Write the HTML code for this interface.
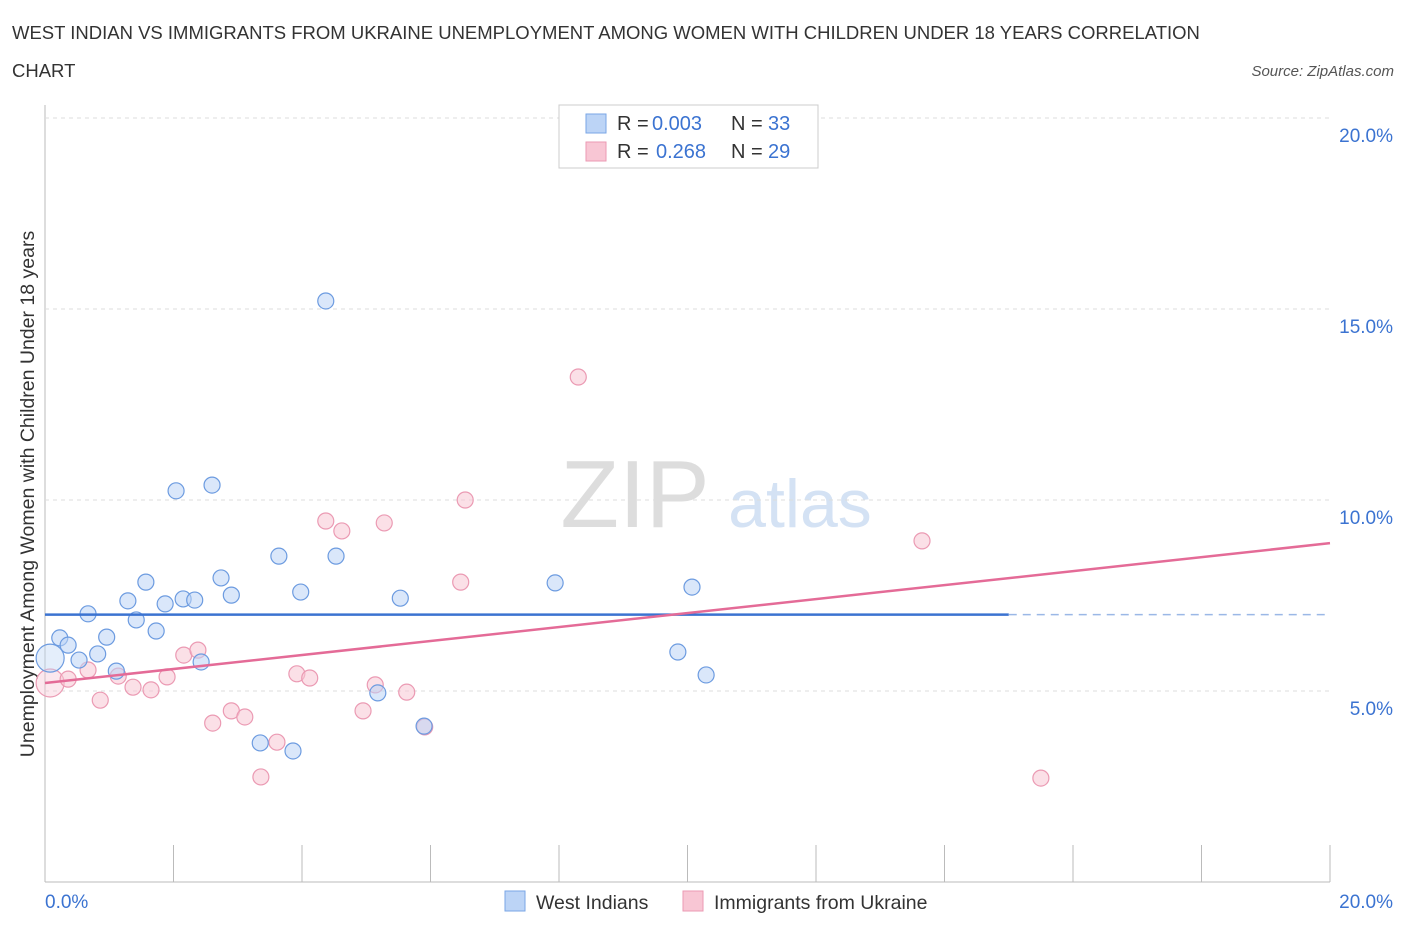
<!DOCTYPE html>
<html><head><meta charset="utf-8"><style>
body{margin:0;background:#fff;font-family:"Liberation Sans",sans-serif;}
svg text{font-family:"Liberation Sans",sans-serif;}
</style></head><body>
<svg id="chart" width="1406" height="930">
<text x="12" y="39" font-size="18.5" fill="#333">WEST INDIAN VS IMMIGRANTS FROM UKRAINE UNEMPLOYMENT AMONG WOMEN WITH CHILDREN UNDER 18 YEARS CORRELATION</text>
<text x="12" y="77" font-size="18.5" fill="#333">CHART</text>
<text x="1394" y="76" font-size="15" fill="#555" font-style="italic" text-anchor="end">Source: ZipAtlas.com</text>
<text x="635" y="527" font-size="96" fill="#ddd" font-family="Liberation Serif" text-anchor="middle">ZIP</text>
<text x="800" y="527" font-size="68" fill="#d4e2f4" text-anchor="middle">atlas</text>
<text transform="translate(34,494) rotate(-90)" font-size="19.5" fill="#333" text-anchor="middle">Unemployment Among Women with Children Under 18 years</text>
<g id="grid"></g><g id="marks"></g>
<g>
<rect x="559" y="105" width="259" height="63" fill="#fff" stroke="#ccc"/>
<rect x="586" y="114" width="20" height="19" fill="#bcd4f6" stroke="#7aa6e6"/>
<text x="617" y="130" font-size="20" fill="#333">R =</text>
<text x="652" y="130" font-size="20" fill="#3b73d1">0.003</text>
<text x="731" y="130" font-size="20" fill="#333">N =</text>
<text x="768" y="130" font-size="20" fill="#3b73d1">33</text>
<rect x="586" y="142" width="20" height="19" fill="#f8c6d4" stroke="#eb9ab3"/>
<text x="617" y="158" font-size="20" fill="#333">R =</text>
<text x="656" y="158" font-size="20" fill="#3b73d1">0.268</text>
<text x="731" y="158" font-size="20" fill="#333">N =</text>
<text x="768" y="158" font-size="20" fill="#3b73d1">29</text>
</g>
<g>
<rect x="505" y="891" width="20" height="20" fill="#bcd4f6" stroke="#7aa6e6"/>
<text x="536" y="909" font-size="19.5" fill="#333">West Indians</text>
<rect x="683" y="891" width="20" height="20" fill="#f8c6d4" stroke="#eb9ab3"/>
<text x="714" y="909" font-size="19.5" fill="#333">Immigrants from Ukraine</text>
</g>
</svg>
<script>
const yTicks=[5,10,15,20];
const xTickVals=[0,2,4,6,8,10,12,14,16,18,20];
const blueX=[0.08,0.23,0.36,0.53,0.67,0.82,0.96,1.11,1.29,1.42,1.57,1.73,1.87,2.04,2.15,2.33,2.43,2.60,2.74,2.90,3.35,3.64,3.86,3.98,4.37,4.53,5.18,5.53,5.90,7.94,9.85,10.07,10.29];
const blueY=[5.86,6.39,6.20,5.81,7.02,5.97,6.41,5.52,7.36,6.86,7.85,6.57,7.28,10.24,7.41,7.38,5.76,10.39,7.96,7.51,3.64,8.53,3.43,7.59,15.21,8.53,4.95,7.43,4.08,7.83,6.02,7.72,5.42];
const pinkX=[0.08,0.36,0.67,0.86,1.14,1.37,1.65,1.90,2.16,2.38,2.61,2.90,3.11,3.36,3.61,3.92,4.12,4.37,4.62,4.95,5.14,5.28,5.63,5.91,6.47,6.54,8.30,13.65,15.50];
const pinkY=[5.21,5.31,5.55,4.76,5.39,5.10,5.03,5.37,5.94,6.07,4.16,4.48,4.32,2.75,3.66,5.45,5.34,9.45,9.19,4.48,5.16,9.40,4.97,4.06,7.85,10.00,13.22,8.93,2.72];
const blueLine=[7.0,7.0];const blueLineEnd=15.0;
const pinkLine=[5.21,8.87];
const X=v=>45+v*64.25, Y=v=>882-v*38.2;
const NS="http://www.w3.org/2000/svg";
function mk(t,a,p){const e=document.createElementNS(NS,t);for(const k in a)e.setAttribute(k,a[k]);p.appendChild(e);return e;}
const g=document.getElementById('grid'),m=document.getElementById('marks');
const ax=mk('line',{x1:45,y1:105,x2:45,y2:882,stroke:'#bbb'},g);


const bx=mk('line',{x1:45,y1:882,x2:1330,y2:882,stroke:'#bbb'},g);


yTicks.forEach(v=>{const l=mk('line',{x1:45,x2:1330,y1:Y(v),y2:Y(v),stroke:'#ddd','stroke-dasharray':'4,4'},g);


const t=mk('text',{x:1393,y:Y(v)+24,'font-size':19,fill:'#3b73d1','text-anchor':'end'},g);t.textContent=v.toFixed(1)+'%';

});
xTickVals.forEach(v=>{const l=mk('line',{x1:X(v),x2:X(v),y1:845,y2:882,stroke:'#bbb'},g);

});
[[0,'0.0%','start',45],[20,'20.0%','end',1393]].forEach(d=>{const t=mk('text',{x:d[3],y:908,'font-size':19,fill:'#3b73d1','text-anchor':d[2]},g);t.textContent=d[1];

});
function pts(xs,ys,fill,stroke,name){xs.forEach((x,i)=>{const c=mk('circle',{cx:X(x),cy:Y(ys[i]),r:i==0?14:8,fill:fill,stroke:stroke,'fill-opacity':i==0?0.4:0.55,'stroke-width':1.2},m);

});}
pts(pinkX,pinkY,'#f8c6d4','#eb9ab3','ukraine-point');
pts(blueX,blueY,'#bcd4f6','#6c9be0','west-indian-point');
const bl=mk('line',{x1:X(0),y1:Y(blueLine[0]),x2:X(blueLineEnd),y2:Y(blueLine[1]),stroke:'#3b73d1','stroke-width':2.5},m);


const bd=mk('line',{x1:X(blueLineEnd),y1:Y(blueLine[1]),x2:X(20),y2:Y(blueLine[1]),stroke:'#9bb8e6','stroke-width':1.5,'stroke-dasharray':'8,6'},m);


const pl=mk('line',{x1:X(0),y1:Y(pinkLine[0]),x2:X(20),y2:Y(pinkLine[1]),stroke:'#e46b97','stroke-width':2.5},m);


</script>
</body></html>
